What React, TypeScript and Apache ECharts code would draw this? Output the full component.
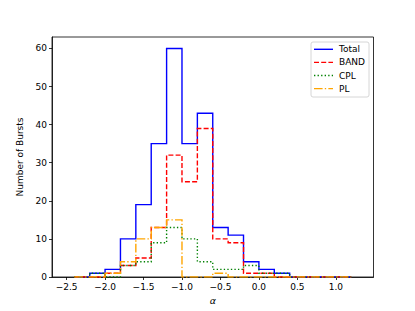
import React, { useEffect, useRef } from "react";
import * as echarts from "echarts";

// Histogram bin edges (alpha)
const binEdges = [-2.4, -2.2, -2.0, -1.8, -1.6, -1.4, -1.2, -1.0, -0.8, -0.6, -0.4, -0.2, 0.0, 0.2, 0.4, 0.6, 0.8, 1.0, 1.2];
// Counts per bin
const totalCounts = [0, 1, 2, 10, 19, 35, 60, 35, 43, 13, 11, 4, 2, 1, 0, 0, 0, 0];
const bandCounts = [0, 0, 1, 3, 5, 13, 32, 25, 39, 10, 9, 1, 1, 0, 0, 0, 0, 0];
const cplCounts = [0, 1, 0, 3, 4, 9, 13, 10, 4, 2, 2, 3, 1, 1, 0, 0, 0, 0];
const plCounts = [0, 0, 1, 4, 10, 13, 15, 0, 0, 1, 0, 0, 0, 0, 0, 0, 0, 0];

const seriesNames = ["Total", "BAND", "CPL", "PL"];
const xTicks = [-2.5, -2.0, -1.5, -1.0, -0.5, 0.0, 0.5, 1.0];
const yTicks = [0, 10, 20, 30, 40, 50, 60];

const colors = ["#0000ff", "#ff0000", "#008000", "#ffa500"];
const dashes: (string | number[])[] = ["solid", [5, 2.2], [1.35, 2.2], [8.6, 2.2, 1.35, 2.2]];

function stepPoints(edges: number[], counts: number[]): number[][] {
  const pts: number[][] = [[edges[0], 0]];
  for (let i = 0; i < counts.length; i++) {
    pts.push([edges[i], counts[i]]);
    pts.push([edges[i + 1], counts[i]]);
  }
  pts.push([edges[edges.length - 1], 0]);
  return pts;
}

const fmtMinus = (v: number, d: number) => {
  const s = v.toFixed(d);
  return s.startsWith("-") ? "\u2212" + s.slice(1) : s;
};

export default function App() {
  const ref = useRef<HTMLDivElement>(null);
  useEffect(() => {
    if (!ref.current) return;
    const chart = echarts.init(ref.current, undefined, { renderer: "svg" });
    const allCounts = [totalCounts, bandCounts, cplCounts, plCounts];
    const font = "DejaVu Sans";
    const legendX = 311;
    const legendY = 42;
    const legendRowH = 13.1;
    const legendGraphics: any[] = [
      {
        type: "rect",
        shape: { x: legendX, y: legendY, width: 58, height: 55, r: 2 },
        style: { fill: "rgba(255,255,255,0.8)", stroke: "#cccccc", lineWidth: 0.8 },
        z: 100,
      },
    ];
    seriesNames.forEach((n, i) => {
      const y = legendY + 7.3 + i * legendRowH;
      legendGraphics.push({
        type: "line",
        shape: { x1: legendX + 3, y1: y, x2: legendX + 22, y2: y },
        style: {
          stroke: colors[i],
          lineWidth: 1.4,
          lineDash: dashes[i] === "solid" ? null : (dashes[i] as number[]),
        },
        z: 101,
      });
      legendGraphics.push({
        type: "text",
        x: legendX + 28,
        y: y,
        style: { text: n, fontSize: 9, fontFamily: font, fill: "#000", verticalAlign: "middle", align: "left" },
        z: 101,
      });
    });

    chart.setOption({
      animation: false,
      backgroundColor: "#ffffff",
      grid: {
        left: 52,
        right: 41.5,
        top: 37,
        bottom: 34,
        show: true,
        borderColor: "#000",
        borderWidth: 0.8,
        containLabel: false,
      },
      xAxis: {
        type: "value",
        min: -2.69,
        max: 1.49,
        splitLine: { show: false },
        axisLine: { show: true, onZero: false, lineStyle: { color: "#000", width: 0.8 } },
        axisTick: { show: true, length: 3, customValues: xTicks, lineStyle: { color: "#000", width: 0.8 } },
        axisLabel: {
          customValues: xTicks,
          formatter: (v: number) => fmtMinus(v, 1),
          fontSize: 9,
          fontFamily: font,
          color: "#000",
          margin: 5,
        },
        name: "\u03b1",
        nameLocation: "middle",
        nameGap: 18,
        nameTextStyle: { fontSize: 9.5, fontFamily: font, fontStyle: "italic", color: "#000" },
      },
      yAxis: {
        type: "value",
        min: 0,
        max: 63,
        splitLine: { show: false },
        axisLine: { show: true, onZero: false, lineStyle: { color: "#000", width: 0.8 } },
        axisTick: { show: true, length: 3, customValues: yTicks, lineStyle: { color: "#000", width: 0.8 } },
        axisLabel: {
          customValues: yTicks,
          formatter: (v: number) => String(v),
          fontSize: 9,
          fontFamily: font,
          color: "#000",
          margin: 5,
        },
        name: "Number of Bursts",
        nameLocation: "middle",
        nameGap: 23,
        nameTextStyle: { fontSize: 9, fontFamily: font, color: "#000" },
      },
      series: seriesNames.map((n, i) => ({
        name: n,
        type: "line",
        data: stepPoints(binEdges, allCounts[i]),
        symbol: "none",
        showSymbol: false,
        lineStyle: { color: colors[i], width: 1.4, type: dashes[i], cap: "butt", join: "miter" },
        itemStyle: { color: colors[i] },
        z: 2 + i,
      })),
      graphic: legendGraphics,
    });
    return () => chart.dispose();
  }, []);
  return (
    <div
      ref={ref}
      style={{ position: "fixed", left: 0, top: 0, width: 415, height: 311, background: "#fff" }}
    />
  );
}
